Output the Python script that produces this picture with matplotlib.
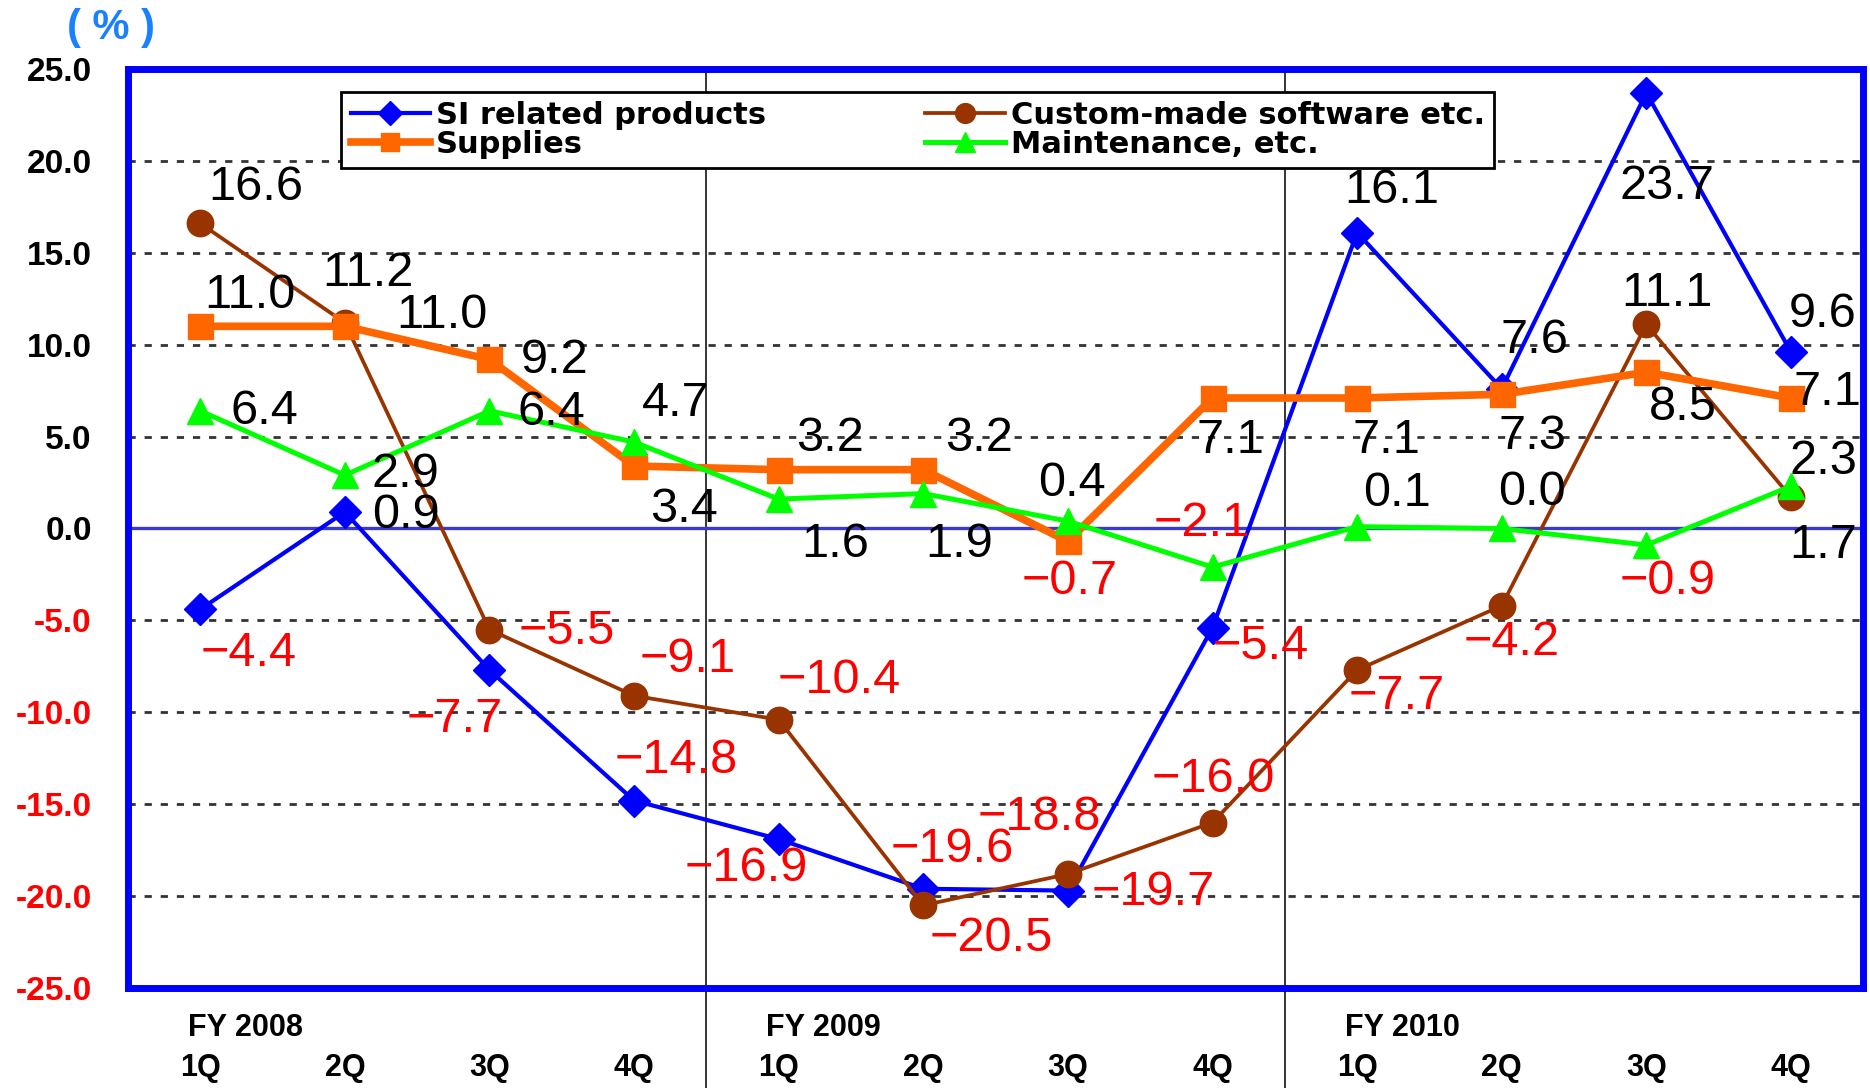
import numpy as np
import matplotlib.pyplot as plt

# Quarterly growth rates (%) by product category
quarters = ['1Q', '2Q', '3Q', '4Q'] * 3
years = ['FY 2008', 'FY 2009', 'FY 2010']

si_products = [-4.4, 0.9, -7.7, -14.8, -16.9, -19.6, -19.7, -5.4, 16.1, 7.6, 23.7, 9.6]
custom_sw = [16.6, 11.2, -5.5, -9.1, -10.4, -20.5, -18.8, -16.0, -7.7, -4.2, 11.1, 1.7]
supplies = [11.0, 11.0, 9.2, 3.4, 3.2, 3.2, -0.7, 7.1, 7.1, 7.3, 8.5, 7.1]
maintenance = [6.4, 2.9, 6.4, 4.7, 1.6, 1.9, 0.4, -2.1, 0.1, 0.0, -0.9, 2.3]

# label offsets from each point, in pixels
si_off = [(48, -44), (61, -4), (-35, -49), (42, 40), (-32, -29), (29, 39),
          (85, -2), (48, -19), (35, 42), (33, 48), (21, -94), (32, 38)]
custom_off = [(56, 36), (23, 49), (77, -2), (54, 36), (61, 39), (68, -33),
              (-29, 57), (1, 43), (40, -26), (10, -37), (21, 31), (32, -48)]
supplies_off = [(50, 31), (97, 11), (65, -1), (50, -43), (51, 31), (56, 31),
                (2, -40), (18, -43), (29, -43), (31, -42), (36, -35), (36, 5)]
maint_off = [(64, -1), (61, 1), (62, -2), (42, 39), (57, -45), (36, -51),
             (4, 38), (-11, 44), (40, 33), (30, 36), (21, -36), (32, 25)]

plt.rcParams['font.family'] = ['Liberation Sans', 'DejaVu Sans']

fig = plt.figure(figsize=(18.7, 10.88), dpi=100)
ax = fig.add_axes([0.0684, 0.0919, 0.928, 0.8447])

x = np.arange(len(quarters))

# grid and zero line
for g in [-20, -15, -10, -5, 5, 10, 15, 20]:
    ax.axhline(g, color='#333333', lw=2.0, ls=(0, (2.6, 3.2)), zorder=1)
ax.axhline(0, color='#3a3acc', lw=2.4, zorder=1.5)

# fiscal year separators, running down past the quarter labels
for sep in [3.5, 7.5]:
    ax.axvline(sep, ymin=-0.11, ymax=1, color='black', lw=1.1, clip_on=False, zorder=1)

l_si, = ax.plot(x, si_products, color='#0000ff', lw=3.0, marker='D', ms=16, zorder=3,
                label='SI related products')
l_cu, = ax.plot(x, custom_sw, color='#993300', lw=2.7, marker='o', ms=19, zorder=4,
                label='Custom-made software etc.')
l_su, = ax.plot(x, supplies, color='#ff6600', lw=5.5, marker='s', ms=18, zorder=5,
                label='Supplies')
l_ma, = ax.plot(x, maintenance, color='#00ff00', lw=3.6, marker='^', ms=19, zorder=6,
                label='Maintenance, etc.')

def value_labels(vals, offs):
    for xi, v, (dx, dy) in zip(x, vals, offs):
        txt = f'{v:.1f}'.replace('-', '\u2212')
        ax.annotate(txt, (xi, v), xytext=(dx, dy), textcoords='offset pixels',
                    ha='center', va='center', fontsize=35,
                    color='red' if v < 0 else 'black', zorder=8)

value_labels(si_products, si_off)
value_labels(custom_sw, custom_off)
value_labels(supplies, supplies_off)
value_labels(maintenance, maint_off)

ax.set_xlim(-0.5, 11.5)
ax.set_ylim(-25, 25)
ax.set_xticks([])
yt = np.arange(-25, 26, 5)
ax.set_yticks(yt)
ax.set_yticklabels([f'{t:.1f}' for t in yt], fontweight='bold', fontsize=24)
for lab, t in zip(ax.get_yticklabels(), yt):
    lab.set_color('red' if t < 0 else 'black')
ax.tick_params(axis='y', length=0, pad=26)

for s in ax.spines.values():
    s.set_color('#0000ff')
    s.set_linewidth(5)

# quarter and fiscal year labels under the axis
xtr = ax.get_xaxis_transform()
for xi, q in zip(x, quarters):
    ax.text(xi, -0.087, q, transform=xtr, ha='center', va='center',
            fontsize=22, fontweight='bold')
for i, yr in enumerate(years):
    ax.text(i * 4 - 0.085, -0.044, yr, transform=xtr, ha='left', va='center',
            fontsize=22, fontweight='bold')

fig.text(0.036, 0.974, '( % )', color='#1a80ff', fontsize=30, fontweight='bold',
         ha='left', va='center')

leg = ax.legend([l_si, l_su, l_cu, l_ma],
                ['SI related products', 'Supplies', 'Custom-made software etc.', 'Maintenance, etc.'],
                ncol=2, loc='upper left', bbox_to_anchor=(0.123, 0.975), borderaxespad=0,
                prop={'family': 'DejaVu Sans', 'weight': 'bold', 'size': 22},
                handlelength=2.6, handletextpad=0.2, columnspacing=5.2,
                labelspacing=0.0, borderpad=0.3,
                fancybox=False, framealpha=1, edgecolor='black', markerscale=0.75)
leg.get_frame().set_linewidth(2)
leg.set_zorder(10)

fig.savefig('out.png', dpi=100)
